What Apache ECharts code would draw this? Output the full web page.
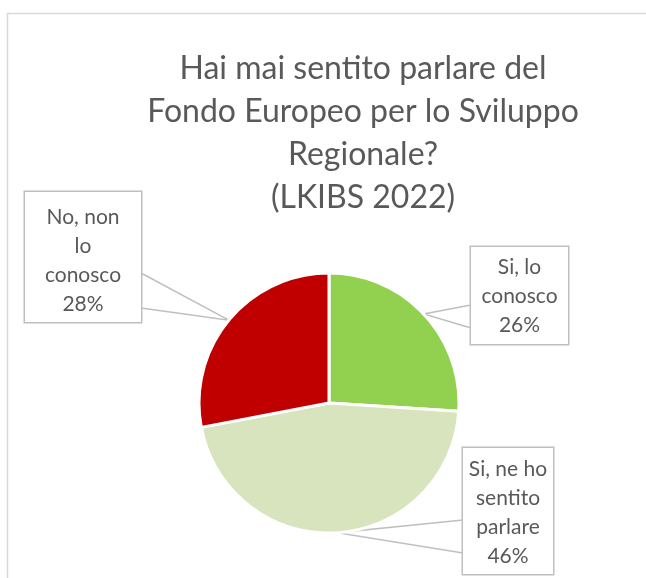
<!DOCTYPE html>
<html style="height: 100%">
<head>
    <meta charset="utf-8">
</head>
<body style="height: 100%; margin: 0">
    <div id="container" style="width: 646px; height: 578px"></div>
    <script src="https://cdn.jsdelivr.net/npm/echarts@6/dist/echarts.min.js"></script>
    <script>
        // data
        const categories = ['Si, lo conosco', 'Si, ne ho sentito parlare', 'No, non lo conosco'];
        const values = [26, 46, 28];
        const labelText = ['Si, lo\nconosco', 'Si, ne ho\nsentito\nparlare', 'No, non\nlo\nconosco'];
        const colors = ['#92D050', '#D7E4BD', '#C00000'];

        // callout boxes: center x, top y, width, padding, pointer base offsets (from box top)
        const boxes = [
            { cx: 519.5, top: 247, w: 97, pad: [6, 4, 4, 4], side: 'left', base: [58, 81] },
            { cx: 508, top: 448, w: 90, pad: [7, 4, 3, 4], side: 'left', base: [72, 105] },
            { cx: 83, top: 192, w: 116, pad: [11, 4, 3, 4], side: 'right', base: [81, 116] }
        ];

        const textColor = '#595959';
        const lineColor = '#BFBFBF';

        const dom = document.getElementById('container');
        const myChart = echarts.init(dom, null, { renderer: 'canvas' });

        const option = {
            animation: false,
            backgroundColor: '#fff',
            title: {
                text: 'Hai mai sentito parlare del\nFondo Europeo per lo Sviluppo\nRegionale?\n(LKIBS 2022)',
                left: 363,
                top: 47,
                textAlign: 'center',
                padding: 0,
                textStyle: {
                    color: textColor,
                    fontFamily: 'Lato',
                    fontSize: 32,
                    fontWeight: 'normal',
                    lineHeight: 43
                }
            },
            graphic: [{
                type: 'rect',
                silent: true,
                shape: { x: 7.5, y: 13.5, width: 700, height: 700 },
                style: { fill: 'none', stroke: '#D9D9D9', lineWidth: 1.5 }
            }],
            series: [{
                type: 'pie',
                center: [329, 403],
                radius: 130,
                startAngle: 90,
                clockwise: true,
                avoidLabelOverlap: false,
                itemStyle: {
                    borderColor: '#fff',
                    borderWidth: 3
                },
                label: {
                    show: true,
                    position: 'outside',
                    color: textColor,
                    fontFamily: 'Lato',
                    fontSize: 21,
                    lineHeight: 29,
                    align: 'center',
                    backgroundColor: '#fff',
                    borderColor: lineColor,
                    borderWidth: 1.5,
                    formatter: p => labelText[p.dataIndex] + '\n' + p.percent + '%'
                },
                labelLine: {
                    show: true,
                    lineStyle: { color: lineColor, width: 1.5 }
                },
                labelLayout: function (params) {
                    const b = boxes[params.dataIndex];
                    const tip = params.labelLinePoints ? params.labelLinePoints[0] : null;
                    const edgeX = b.side === 'left' ? b.cx - b.w / 2 : b.cx + b.w / 2;
                    const out = {
                        x: b.cx,
                        y: b.top,
                        align: 'center',
                        verticalAlign: 'top'
                    };
                    if (tip) {
                        out.labelLinePoints = [
                            [edgeX, b.top + b.base[0]],
                            tip,
                            [edgeX, b.top + b.base[1]]
                        ];
                    }
                    return out;
                },
                data: categories.map((name, i) => ({
                    name: name,
                    value: values[i],
                    itemStyle: { color: colors[i] },
                    label: { width: boxes[i].w - 8, padding: boxes[i].pad }
                }))
            }]
        };

        myChart.setOption(option);
    </script>
</body>
</html>
